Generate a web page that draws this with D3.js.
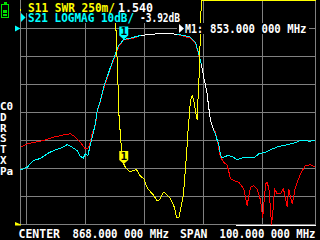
<!DOCTYPE html>
<html><head><meta charset="utf-8">
<script src="https://cdn.jsdelivr.net/npm/d3@7"></script>
<style>
html,body{margin:0;padding:0;background:#000;overflow:hidden}
svg{display:block}
text{font-family:"DejaVu Sans Mono",monospace;font-weight:bold;font-size:12px}
</style></head><body>
<svg id="c" width="320" height="240"></svg>
<script>
// ---- data ----
const startMHz = 818, stopMHz = 918;
const gridFreqs = [820, 840, 860, 880, 900];
const swrGrid = [1, 1.25, 1.5, 1.75, 2, 2.25, 2.5, 2.75];
const markerFreq = 853, markerDb = -3.92, markerSwr = 1.540;

// S21 LOGMAG (cyan) [MHz, dB]
const s21 = [[818.0,-50.5],[820.3,-49.5],[822.5,-47.1],[824.8,-46.4],[827.2,-44.6],[829.2,-43.6],[831.6,-42.75],[833.8,-41.5],[835.5,-42.4],[837.2,-43.6],[838.3,-45.7],[839.3,-46.2],[840.0,-44.75],[840.8,-45.4],[841.5,-42.4],[842.3,-38.8],[843.4,-34.0],[844.0,-29.3],[845.1,-25.7],[846.2,-21.0],[848.5,-13.8],[850.2,-9.0],[851.3,-6.1],[852.5,-4.5],[853.0,-3.92],[854.2,-3.7],[856.4,-3.1],[858.7,-2.5],[862.1,-2.1],[864.3,-1.9],[867.7,-1.7],[871.1,-2.1],[873.4,-2.5],[875.6,-3.1],[877.3,-4.9],[878.4,-9.0],[879.3,-12.6],[880.1,-17.4],[881.1,-22.1],[881.8,-28.1],[882.4,-32.9],[883.5,-36.4],[884.1,-37.6],[884.7,-40.0],[885.2,-41.2],[885.8,-45.4],[886.4,-46.2],[888.1,-45.4],[889.8,-45.7],[891.5,-46.9],[893.2,-46.2],[894.8,-46.0],[897.1,-46.2],[898.8,-44.75],[901.1,-44.2],[902.7,-43.3],[905.6,-42.1],[908.4,-41.5],[910.6,-41.0],[912.9,-40.0],[916.3,-40.25],[918.0,-39.75]];

// stored memory trace (red) [MHz, dB]
const mem = [[818.0,-42.4],[820.3,-41.2],[822.5,-40.7],[825.9,-40.0],[829.3,-38.8],[832.7,-38.0],[834.9,-37.6],[836.6,-38.8],[838.3,-40.6],[840.0,-43.0],[840.8,-43.0],[841.5,-41.2],[842.3,-37.6],[843.4,-34.4],[844.0,-29.8],[845.1,-26.1],[846.2,-21.4],[848.5,-14.2],[850.2,-9.4],[851.3,-6.5],[852.5,-4.8],[853.0,-3.92],[854.2,-3.9],[856.4,-3.4],[858.7,-2.5],[862.1,-2.1],[864.3,-1.9],[867.7,-1.7],[871.1,-2.1],[873.4,-2.8],[875.6,-3.4],[877.3,-5.2],[878.4,-9.3],[879.3,-12.6],[880.1,-17.4],[881.1,-22.1],[881.8,-28.1],[882.4,-32.9],[883.5,-36.4],[884.1,-37.0],[884.7,-40.0],[885.8,-46.0],[886.9,-47.75],[888.1,-48.9],[889.2,-53.7],[890.3,-54.3],[892.0,-54.9],[893.7,-57.25],[894.8,-63.2],[896.0,-56.7],[897.1,-56.1],[898.2,-57.25],[899.4,-61.4],[900.1,-67.5],[901.1,-55.5],[901.6,-54.9],[902.2,-57.25],[902.7,-63.8],[903.1,-70],[903.7,-63.8],[904.1,-57.25],[905.0,-59.0],[906.1,-59.0],[907.1,-57.25],[907.8,-60.25],[908.4,-63.8],[908.9,-57.25],[909.5,-60.25],[910.1,-62.6],[911.2,-56.7],[912.9,-51.9],[914.6,-48.9],[916.3,-48.7],[918.0,-49.5]];

// S11 SWR (yellow) [MHz, SWR]
const s11 = [[818.0,2.91],[819.0,3.6],[825.0,5.0],[835.0,7.0],[845.0,5.5],[850.0,3.3],[851.0,2.29],[851.4,1.97],[852.2,1.68],[853.0,1.54],[853.6,1.51],[855.1,1.47],[855.9,1.48],[857.3,1.49],[858.7,1.43],[859.8,1.41],[860.9,1.33],[862.1,1.29],[863.2,1.26],[864.3,1.21],[865.2,1.22],[866.4,1.29],[867.5,1.27],[868.6,1.24],[869.4,1.20],[870.2,1.15],[870.9,1.06],[871.7,1.065],[872.2,1.125],[873.2,1.26],[873.6,1.39],[874.3,1.63],[874.7,1.81],[875.1,1.93],[875.6,2.11],[876.2,2.15],[876.7,2.11],[877.3,2.02],[877.9,1.93],[878.1,2.08],[878.4,2.23],[878.8,2.52],[879.0,2.82],[879.4,3.3],[890.0,6.0],[905.0,8.0],[918.0,5.0]];

const line1 = [["S11 SWR 250m/","#ffff00"],["1.540","#ffffff"]];
const line2 = [["S21 LOGMAG 10dB/","#00ffff"],["-3.92dB","#ffffff"]];
const markerLine = ["M1:","853.000 000 MHz"];
const footer = ["CENTER","868.000 000 MHz","SPAN","100.000 000 MHz"];
const calFlags = ["C0","D","R","S","T","X","Pa"];

// ---- drawing ----
const svg = d3.select("#c");
svg.append("rect").attr("width",320).attr("height",240).attr("fill","#000");
const x = d3.scaleLinear().domain([startMHz, stopMHz]).range([20.5, 315.5]);
const ySwr = d3.scaleLinear().domain([1, 3]).range([224.5, 0.5]).clamp(true);
const yDb = d3.scaleLinear().domain([10, -70]).range([0.5, 224.5]).clamp(true);
const snap = v => Math.round(v - 0.5) + 0.5;
const GRID = "#808080";

const g = svg.append("g").attr("shape-rendering","crispEdges");
const vx = [x(startMHz), ...gridFreqs.map(x), x(stopMHz)].map(snap);
g.selectAll("line.v").data(vx).join("line")
  .attr("x1",d=>d).attr("x2",d=>d).attr("y1",0).attr("y2",225)
  .attr("stroke",GRID);
g.selectAll("line.h").data(swrGrid.map(v=>snap(ySwr(v)))).join("line")
  .attr("x1",20).attr("x2",316).attr("y1",d=>d).attr("y2",d=>d)
  .attr("stroke",GRID);

const defs = svg.append("defs");
defs.append("clipPath").attr("id","plot").append("rect")
  .attr("x",20).attr("y",0).attr("width",297).attr("height",226);

const tr = svg.append("g").attr("clip-path","url(#plot)")
  .attr("fill","none").attr("stroke-width",1).attr("shape-rendering","crispEdges");
const lineDb = d3.line().x(d=>x(d[0])).y(d=>yDb(d[1]));
const lineSwr = d3.line().x(d=>x(d[0])).y(d=>ySwr(d[1]));
tr.append("path").attr("d",lineDb(mem)).attr("stroke","#ff0000");
tr.append("path").attr("d",lineDb(s21)).attr("stroke","#00ffff");
const memMap = new Map(mem.map(d=>[d[0],d[1]]));
const same = d => memMap.has(d[0]) && Math.abs(memMap.get(d[0]) - d[1]) < 0.01;
const segs = [];
for (let i=0;i<s21.length-1;i++) if (same(s21[i]) && same(s21[i+1])) segs.push([s21[i],s21[i+1]]);
tr.selectAll("path.ov").data(segs).join("path").attr("d",d=>lineDb(d)).attr("stroke","#ffffff");
tr.append("path").attr("d",lineSwr(s11)).attr("stroke","#ffff00");

// reference position markers
svg.append("polygon").attr("points","15,25.5 20.5,28.5 15,31.5").attr("fill","#00ffff");
svg.append("polygon").attr("points","15,222 21,224.5 21,225.5 15,225.5").attr("fill","#ffff00");

// text backgrounds
const bg = svg.append("g").attr("fill","#000");
bg.append("rect").attr("x",21).attr("y",0).attr("width",134).attr("height",13);
bg.append("rect").attr("x",27).attr("y",13).attr("width",155).attr("height",10);
bg.append("rect").attr("x",177).attr("y",23).attr("width",132).attr("height",11);

function seg(txt, x0, y0, len, col, size){
  const t = svg.append("text").attr("x",x0).attr("y",y0).attr("fill",col)
    .attr("textLength",len).attr("lengthAdjust","spacingAndGlyphs").text(txt);
  if (size) t.style("font-size", size + "px");
}
seg(line1[0][0],28,11.5,87,line1[0][1]);
seg(line1[1][0],118,11.5,35,line1[1][1]);
svg.append("polygon").attr("points","21,13 25.5,17.5 21,22").attr("fill","#00ffff");
seg(line2[0][0],28,22,106,line2[0][1]);
seg(line2[1][0],140,22,40,line2[1][1]);
svg.append("polygon").attr("points","179,24 184,28.5 179,33").attr("fill","#ffffff");
seg(markerLine[0],185,33,18,"#ffffff");
seg(markerLine[1],210,33,96.5,"#ffffff");

// footer
seg(footer[0],18.5,237.5,41.5,"#ffffff",11.5);
seg(footer[1],72.5,237.5,96.5,"#ffffff",11.5);
seg(footer[2],180,237.5,27.5,"#ffffff",11.5);
seg(footer[3],219.5,237.5,96,"#ffffff",11.5);
svg.append("line").attr("x1",236).attr("x2",316).attr("y1",225.5).attr("y2",225.5)
  .attr("stroke","#ffffff").attr("shape-rendering","crispEdges");

// calibration flags
calFlags.forEach((t,i)=>{
  seg(t, 0, 110+i*10.8, t.length*6.6, "#ffffff", 11);
});

// battery
const bat = svg.append("g").attr("shape-rendering","crispEdges");
bat.append("rect").attr("x",4).attr("y",2).attr("width",3).attr("height",2).attr("fill","#00e000");
bat.append("rect").attr("x",1.5).attr("y",4.5).attr("width",7).attr("height",12.5).attr("fill","none").attr("stroke","#00e000");
bat.append("rect").attr("x",3).attr("y",10).attr("width",4).attr("height",2.5).attr("fill","#00e000");
bat.append("rect").attr("x",3).attr("y",13.5).attr("width",4).attr("height",2.5).attr("fill","#00e000");

// trace markers
function marker(tx, ty, col){
  const m = svg.append("g").attr("transform",`translate(${tx},${ty})`);
  m.append("path").attr("d","M-4.5,-13H4.5V-4L0,0L-4.5,-4Z").attr("fill",col);
  m.append("text").attr("x",0).attr("y",-4.5).attr("text-anchor","middle")
    .attr("fill","#000").style("font-size","11px").text("1");
}
marker(x(markerFreq), yDb(markerDb), "#00ffff");
marker(x(markerFreq), ySwr(markerSwr), "#ffff00");
</script></body></html>
